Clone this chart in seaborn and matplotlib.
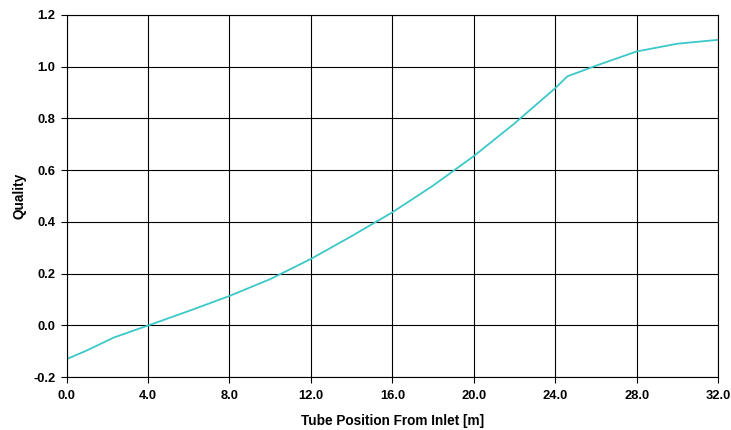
import matplotlib
matplotlib.use("Agg")
import matplotlib.pyplot as plt
import seaborn as sns
import pandas as pd

position = [0, 1, 2.3, 4, 6, 8, 10, 12, 14, 16, 18, 20, 22, 24, 24.6, 26, 28, 30, 32]
quality = [-0.13, -0.096, -0.047, 0.0, 0.056, 0.114, 0.179, 0.257, 0.345, 0.437, 0.54,
           0.654, 0.78, 0.916, 0.962, 1.003, 1.058, 1.088, 1.103]
xticks = [0, 4, 8, 12, 16, 20, 24, 28, 32]
yticks = [-0.2, 0.0, 0.2, 0.4, 0.6, 0.8, 1.0, 1.2]

sns.set_style("ticks")
plt.rcParams['font.family'] = ['Liberation Sans', 'DejaVu Sans']
plt.rcParams['text.color'] = 'black'
plt.rcParams['axes.labelcolor'] = 'black'
plt.rcParams['xtick.color'] = 'black'
plt.rcParams['ytick.color'] = 'black'

df = pd.DataFrame({"x": position, "y": quality})
fig = plt.figure(figsize=(7.31, 4.30), dpi=100)
ax = fig.add_axes([0.0912, 0.1226, 0.891, 0.8432])
sns.lineplot(data=df, x="x", y="y", ax=ax, color="#3CC8C8", linewidth=1.3)

ax.set_xlim(0, 32)
ax.set_ylim(-0.2, 1.2)
ax.set_xticks(xticks)
ax.set_yticks(yticks)
ax.set_xticklabels([f"{v:.1f}" for v in xticks], fontsize=9.3, fontweight="bold")
ax.set_yticklabels([f"{v:.1f}" for v in yticks], fontsize=9.3, fontweight="bold")
ax.grid(True, color="black", linewidth=0.8)
ax.set_axisbelow(True)
for s in ax.spines.values():
    s.set_color("black")
    s.set_linewidth(0.8)
ax.tick_params(axis="both", direction="out", length=4, width=0.8, color="black", pad=5)
ax.tick_params(axis="y", pad=4)
ax.set_xlabel("Tube Position From Inlet [m]", fontsize=9.8, fontweight="bold", labelpad=9)
ax.set_ylabel("Quality", fontsize=9.8, fontweight="bold", labelpad=5)

fig.savefig("out.png", dpi=100)
